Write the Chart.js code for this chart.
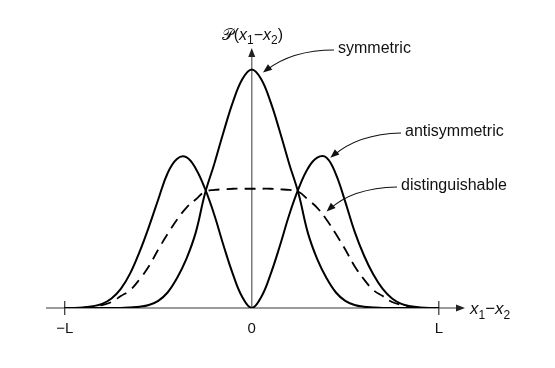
<!DOCTYPE html>
<html>
<head>
<meta charset="utf-8">
<script src="https://cdn.jsdelivr.net/npm/chart.js@4/dist/chart.umd.min.js"></script>
<style>
  html, body { margin: 0; padding: 0; background: #fff; }
</style>
</head>
<body>
<canvas id="myChart" width="555" height="368"></canvas>
<script>
'use strict';

// separation x1 - x2, in units of L
var xValues = [-1, -0.95, -0.9, -0.85, -0.8, -0.75, -0.7, -0.65, -0.6, -0.55, -0.5,
  -0.45, -0.4, -0.35, -0.3, -0.25, -0.2, -0.15, -0.1, -0.05, 0,
  0.05, 0.1, 0.15, 0.2, 0.25, 0.3, 0.35, 0.4, 0.45, 0.5,
  0.55, 0.6, 0.65, 0.7, 0.75, 0.8, 0.85, 0.9, 0.95, 1];

// probability (plateau of distinguishable = 1)
var symmetric = [0, 0, 0, 0, 0, 0, 0, 0.004, 0.01, 0.025, 0.06,
  0.13, 0.25, 0.41, 0.63, 0.96, 1.21, 1.48, 1.73, 1.92, 2.00,
  1.92, 1.73, 1.48, 1.21, 0.96, 0.63, 0.41, 0.25, 0.13, 0.06,
  0.025, 0.01, 0.004, 0, 0, 0, 0, 0, 0, 0];

var antisymmetric = [0, 0, 0.005, 0.015, 0.035, 0.08, 0.16, 0.29, 0.47, 0.68, 0.91,
  1.13, 1.25, 1.265, 1.17, 1.00, 0.78, 0.52, 0.28, 0.09, 0,
  0.09, 0.28, 0.52, 0.78, 1.00, 1.17, 1.26, 1.26, 1.12, 0.89,
  0.64, 0.44, 0.28, 0.16, 0.08, 0.035, 0.015, 0.005, 0, 0];

var distinguishable = [0, 0, 0.003, 0.01, 0.025, 0.05, 0.10, 0.15, 0.24, 0.35, 0.49,
  0.62, 0.74, 0.84, 0.91, 0.975, 0.99, 0.995, 1.00, 1.00, 1.00,
  1.00, 1.00, 0.995, 0.99, 0.975, 0.91, 0.84, 0.74, 0.62, 0.49,
  0.35, 0.24, 0.15, 0.10, 0.05, 0.025, 0.01, 0.003, 0, 0];

// tick positions and their labels
var tickValues = [-1, 0, 1];
var tickLabels = ['\u2212L', '0', 'L'];

var textFont = '"Liberation Sans", Arial, Helvetica, sans-serif';
var axisColor = '#7a7a7a';
var inkColor = '#111';

function points(ys) {
  var out = [];
  for (let i = 0; i < xValues.length; i++) {
    out.push({ x: xValues[i], y: ys[i] });
  }
  return out;
}

// filled arrow head pointing from (fx,fy) towards (tx,ty)
function arrowHead(ctx, fx, fy, tx, ty, len, half) {
  var a = Math.atan2(ty - fy, tx - fx);
  ctx.beginPath();
  ctx.moveTo(tx, ty);
  ctx.lineTo(tx - len * Math.cos(a) + half * Math.sin(a), ty - len * Math.sin(a) - half * Math.cos(a));
  ctx.lineTo(tx - len * Math.cos(a) - half * Math.sin(a), ty - len * Math.sin(a) + half * Math.cos(a));
  ctx.closePath();
  ctx.fill();
}

// text made of pieces: italic letters and subscripts
function richText(ctx, parts, x, y, size) {
  ctx.textBaseline = 'alphabetic';
  ctx.textAlign = 'left';
  for (let i in parts) {
    var p = parts[i];
    var s = p.sub ? Math.round(size * 0.72) : size;
    ctx.font = (p.italic ? 'italic ' : '') + s + 'px ' + (p.family || textFont);
    ctx.fillText(p.t, x, y + (p.sub ? size * 0.28 : 0));
    x += ctx.measureText(p.t).width + (p.gap || 0);
  }
}

var axesPlugin = {
  id: 'axesPlugin',
  beforeDatasetsDraw: function(chart) {
    var ctx = chart.ctx;
    var sx = chart.scales.x, sy = chart.scales.y;
    var area = chart.chartArea;
    var y0 = sy.getPixelForValue(0);
    var x0 = sx.getPixelForValue(0);
    ctx.save();
    ctx.strokeStyle = axisColor;
    ctx.fillStyle = '#222';
    ctx.lineWidth = 1.5;

    // horizontal axis with arrow
    ctx.beginPath();
    ctx.moveTo(area.left, y0);
    ctx.lineTo(area.right - 4, y0);
    ctx.stroke();
    arrowHead(ctx, area.left, y0, area.right, y0, 9, 3.5);

    // vertical axis with arrow
    ctx.beginPath();
    ctx.moveTo(x0, y0);
    ctx.lineTo(x0, area.top + 4);
    ctx.stroke();
    arrowHead(ctx, x0, y0, x0, area.top, 9, 3.5);

    // tick marks at -L and L
    ctx.strokeStyle = '#333';
    ctx.lineWidth = 1.2;
    for (let i in tickValues) {
      if (tickValues[i] == 0) continue;
      var tx = sx.getPixelForValue(tickValues[i]);
      ctx.beginPath();
      ctx.moveTo(tx, y0 - 7);
      ctx.lineTo(tx, y0 + 7);
      ctx.stroke();
    }
    ctx.restore();
  },
  afterDraw: function(chart) {
    var ctx = chart.ctx;
    var sx = chart.scales.x, sy = chart.scales.y;
    var area = chart.chartArea;
    var x0 = sx.getPixelForValue(0);
    var y0 = sy.getPixelForValue(0);
    ctx.save();
    ctx.fillStyle = inkColor;

    // axis titles
    richText(ctx, [
      { t: '\uD835\uDCAB', family: '"DejaVu Serif", serif' },
      { t: '(' },
      { t: 'x', italic: true },
      { t: '1', sub: true },
      { t: '\u2212' },
      { t: 'x', italic: true },
      { t: '2', sub: true },
      { t: ')' }
    ], x0 - 30, area.top - 8, 16);

    richText(ctx, [
      { t: 'x', italic: true },
      { t: '1', sub: true },
      { t: '\u2212' },
      { t: 'x', italic: true },
      { t: '2', sub: true }
    ], area.right + 5, y0 + 6, 17);

    // labels with curved pointers, tip given in data units
    var notes = [
      { text: 'symmetric', lx: 338, ly: 49, cx: 292, cy: 50, tip: [0.06, 1.975] },
      { text: 'antisymmetric', lx: 405, ly: 132, cx: 358, cy: 134, tip: [0.42, 1.26] },
      { text: 'distinguishable', lx: 401, ly: 186, cx: 352, cy: 188, tip: [0.40, 0.81] }
    ];
    ctx.font = '16px ' + textFont;
    ctx.textBaseline = 'middle';
    ctx.strokeStyle = inkColor;
    ctx.lineWidth = 1.2;
    for (let i in notes) {
      var n = notes[i];
      var tx = sx.getPixelForValue(n.tip[0]);
      var ty = sy.getPixelForValue(n.tip[1]);
      ctx.fillText(n.text, n.lx, n.ly);
      ctx.beginPath();
      ctx.moveTo(n.lx - 4, n.ly + 1);
      ctx.quadraticCurveTo(n.cx, n.cy, tx + 3, ty - 2);
      ctx.stroke();
      arrowHead(ctx, n.cx, n.cy, tx, ty, 9, 3.5);
    }
    ctx.restore();
  }
};
</script>
<script>
var chartCtx = document.getElementById('myChart').getContext('2d');
var chart = new Chart(chartCtx, {
  type: 'line',
  data: {
    datasets: [
      {
        label: 'symmetric',
        data: points(symmetric),
        borderColor: '#000',
        borderWidth: 2
      },
      {
        label: 'antisymmetric',
        data: points(antisymmetric),
        borderColor: '#000',
        borderWidth: 2
      },
      {
        label: 'distinguishable',
        data: points(distinguishable),
        borderColor: '#000',
        borderWidth: 1.8,
        borderDash: [11, 7]
      }
    ]
  },
  options: {
    responsive: false,
    animation: false,
    layout: { padding: { left: 46, right: 90, top: 48, bottom: 18 } },
    elements: {
      point: { radius: 0 },
      line: { tension: 0.4, fill: false, borderCapStyle: 'butt' }
    },
    plugins: {
      legend: { display: false },
      tooltip: { enabled: false }
    },
    scales: {
      x: {
        type: 'linear',
        min: -1.10,
        max: 1.14,
        grid: { display: false, drawTicks: false },
        border: { display: false },
        afterBuildTicks: function(scale) {
          scale.ticks = tickValues.map(function(v) { return { value: v }; });
        },
        ticks: {
          padding: 12,
          color: inkColor,
          font: { family: textFont, size: 15 },
          callback: function(value) {
            return tickLabels[tickValues.indexOf(value)];
          }
        }
      },
      y: {
        display: false,
        min: 0,
        max: 2.18
      }
    }
  },
  plugins: [axesPlugin]
});
</script>
</body>
</html>
